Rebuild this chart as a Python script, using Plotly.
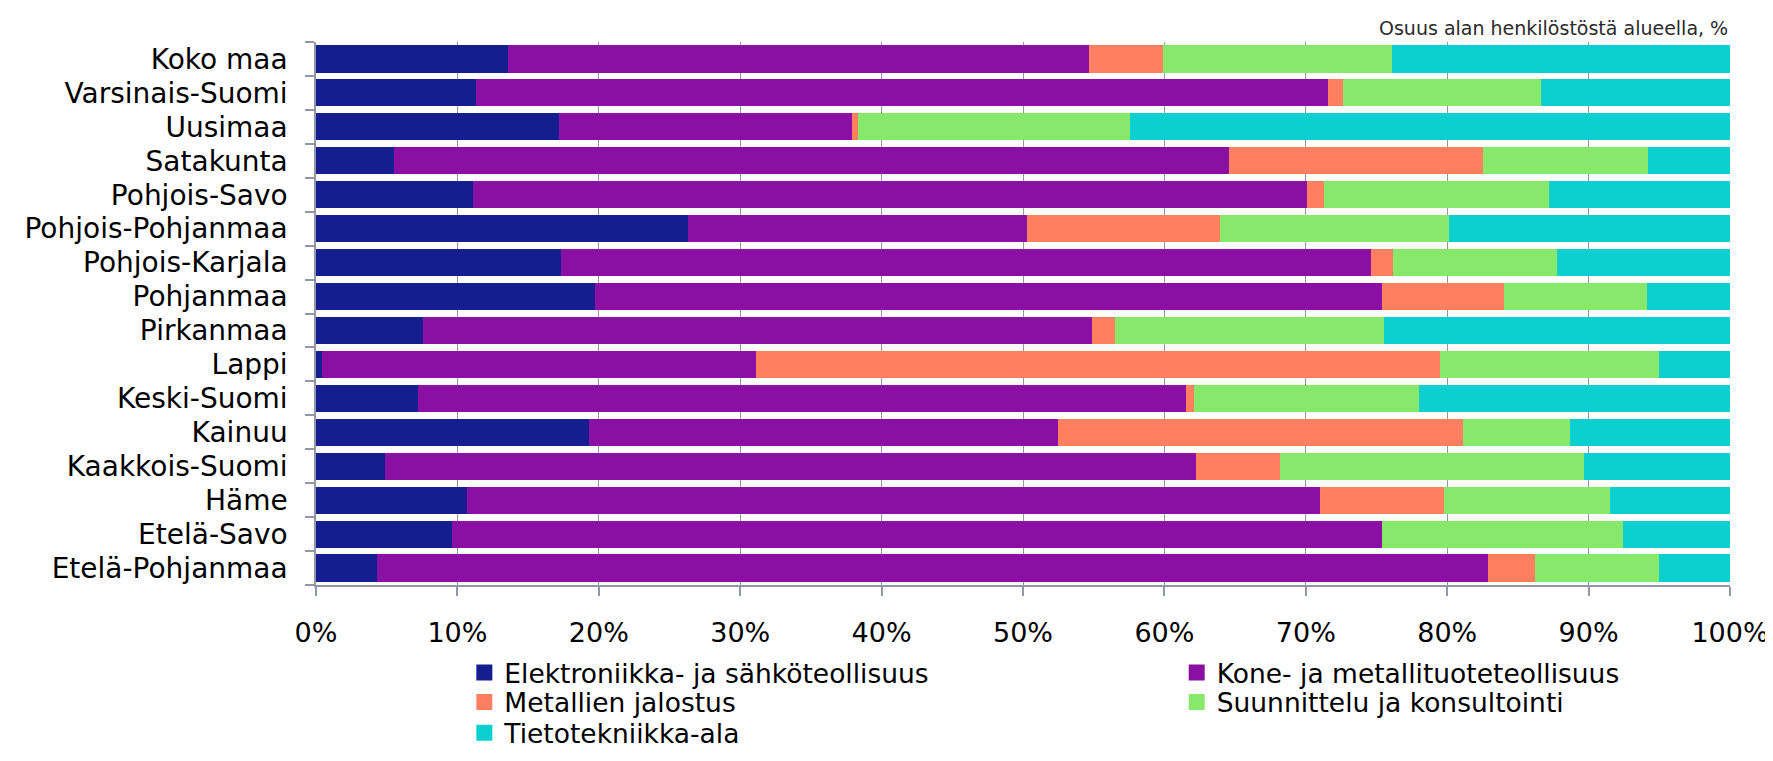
import plotly.graph_objects as go

regions = ["Koko maa", "Varsinais-Suomi", "Uusimaa", "Satakunta", "Pohjois-Savo",
           "Pohjois-Pohjanmaa", "Pohjois-Karjala", "Pohjanmaa", "Pirkanmaa", "Lappi",
           "Keski-Suomi", "Kainuu", "Kaakkois-Suomi", "Häme", "Etelä-Savo", "Etelä-Pohjanmaa"]

elektroniikka = [13.6, 11.3, 17.2, 5.5, 11.1, 26.3, 17.3, 19.7, 7.6, 0.4, 7.2, 19.3, 4.9, 10.7, 9.6, 4.3]
kone = [41.1, 60.3, 20.7, 59.1, 59.0, 24.0, 57.3, 55.7, 47.3, 30.7, 54.3, 33.2, 57.3, 60.3, 65.8, 78.6]
metallien = [5.2, 1.0, 0.4, 17.9, 1.2, 13.6, 1.6, 8.6, 1.6, 48.4, 0.6, 28.6, 6.0, 8.8, 0.0, 3.3]
suunnittelu = [16.2, 14.0, 19.3, 11.7, 15.9, 16.2, 11.6, 10.1, 19.0, 15.5, 15.9, 7.6, 21.5, 11.7, 17.0, 8.8]
tietotekniikka = [23.9, 13.4, 42.4, 5.8, 12.8, 19.9, 12.2, 5.9, 24.5, 5.0, 22.0, 11.3, 10.3, 8.5, 7.6, 5.0]

series = [
    ("Elektroniikka- ja sähköteollisuus", elektroniikka, "#141E8F"),
    ("Kone- ja metallituoteteollisuus", kone, "#8A10A4"),
    ("Metallien jalostus", metallien, "#FF8060"),
    ("Suunnittelu ja konsultointi", suunnittelu, "#88E86C"),
    ("Tietotekniikka-ala", tietotekniikka, "#0CCFCF"),
]

font = "DejaVu Sans, Verdana, sans-serif"

# legend placement (paper coords): col1/col2 x, rows y
legend_pos = [(0.1049, -0.1616), (0.6087, -0.1616), (0.1049, -0.2162),
              (0.6087, -0.2162), (0.1049, -0.2726)]

fig = go.Figure()
layout_legends = {}
for i, (name, vals, col) in enumerate(series):
    lg = "legend" if i == 0 else f"legend{i + 1}"
    fig.add_trace(go.Bar(
        y=regions, x=vals, name=name, orientation="h", showlegend=False,
        marker=dict(color=col, line=dict(width=0)),
    ))
    fig.add_trace(go.Scatter(
        x=[None], y=[None], mode="markers", name=name, legend=lg, showlegend=True,
        marker=dict(symbol="square", size=16, color=col, line=dict(width=0)),
    ))
    x, y = legend_pos[i]
    layout_legends[lg] = dict(x=x, y=y, xanchor="left", yanchor="middle",
                              orientation="v", itemsizing="trace",
                              bgcolor="rgba(0,0,0,0)", font=dict(family=font, size=26.5, color="#000"))

fig.update_layout(
    barmode="stack",
    barnorm="percent",
    width=1773, height=761,
    margin=dict(l=308, r=44, t=34, b=154),
    paper_bgcolor="white", plot_bgcolor="white",
    bargap=0.2,
    font=dict(family=font, size=27, color="#000000"),
    showlegend=True,
    annotations=[dict(text="Osuus alan henkilöstöstä alueella, %", xref="paper", yref="paper",
                      x=1.0, y=1.0262, xanchor="right", yanchor="middle", showarrow=False,
                      font=dict(family=font, size=19, color="#2a2a2a"))],
    **layout_legends,
)
fig.update_xaxes(range=[0, 100], dtick=10, ticksuffix="%", showgrid=True, gridcolor="#9097A8",
                 gridwidth=1, showline=True, linecolor="#9097A8", linewidth=1.5,
                 ticks="outside", ticklen=9, tickcolor="#9097A8", tickwidth=1.5,
                 zeroline=False, tickfont=dict(size=27), ticklabelstandoff=14)
fig.update_yaxes(autorange="reversed", showline=True, linecolor="#9097A8", linewidth=1.5,
                 tickmode="array", tickvals=regions, ticktext=regions,
                 ticks="outside", tickson="boundaries", ticklen=9, tickcolor="#9097A8",
                 tickwidth=1.5, showgrid=False, tickfont=dict(size=28), ticklabelstandoff=21)

fig.write_html("out.html")
